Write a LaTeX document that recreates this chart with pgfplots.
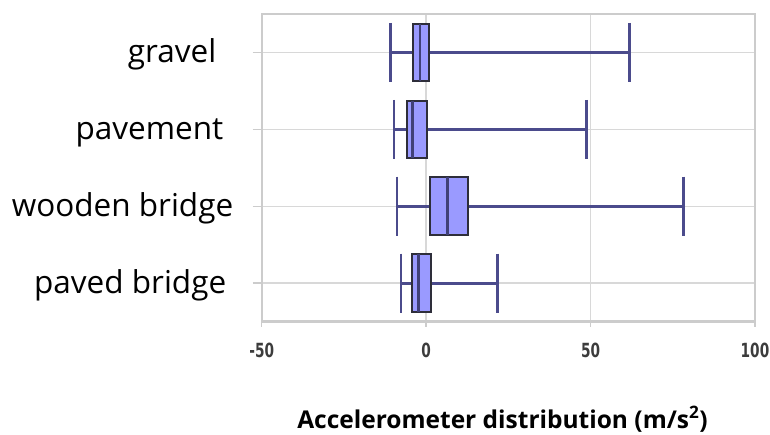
\documentclass[border=0pt]{standalone}
\usepackage{pgfplots}
\pgfplotsset{compat=1.18}
\usepgfplotslibrary{statistics}
\usepackage{fontspec}
\setmainfont{Open Sans}
\newfontfamily\tickfont[FakeStretch=0.78]{DejaVu Sans Condensed}

\definecolor{boxfill}{HTML}{9A9AFF}
\definecolor{whisk}{HTML}{4B4B8C}
\definecolor{boxedge}{HTML}{2E2E3A}
\definecolor{gridc}{HTML}{D8D8D8}
\definecolor{framec}{HTML}{CCCCCC}
\definecolor{tickc}{HTML}{3C3C3C}

\pgfplotsset{
  boxplot/every box/.style={draw=boxedge, fill=boxfill, line width=2pt},
  boxplot/every whisker/.style={draw=whisk, line width=2.6pt},
  boxplot/every median/.style={draw=whisk!85!black, line width=2.4pt},
}

\begin{document}
\begin{tikzpicture}[x=1pt,y=1pt]
\useasboundingbox (0,0) rectangle (770,434);
\begin{axis}[
  at={(261.7pt,112.3pt)}, anchor=south west,
  width=493.3pt, height=307.7pt, scale only axis,
  xmin=-50, xmax=100, ymin=0.5, ymax=4.5, y dir=reverse,
  xtick={-50,0,50,100}, ytick={1,2,3,4},
  yticklabels={gravel\hspace{17pt}\null, pavement\hspace{10pt}\null,
    wooden bridge, paved bridge\hspace{7pt}\null},
  xtick pos=bottom, ytick pos=left,
  tick align=outside,
  xtick style={draw=framec, line width=1.5pt, /pgfplots/major tick length=5pt},
  ytick style={draw=framec, line width=1.5pt, /pgfplots/major tick length=9pt},
  grid=major, major grid style={draw=gridc, line width=1.6pt},
  axis line style={draw=framec, line width=1.6pt},
  /pgf/number format/assume math mode=true,
  xticklabel style={font=\tickfont\bfseries\fontsize{19.5}{22}\selectfont, text=tickc,
    anchor=base, inner sep=0pt, yshift=-32pt},
  yticklabel style={font=\fontsize{31.5}{34}\selectfont, text=black,
    anchor=base east, inner sep=0pt, yshift=-10pt, xshift=-24pt},
  clip=false,
]
% bottom axis line is drawn heavier than the frame
\draw[draw=framec, line width=3pt] (rel axis cs:0,0) -- (rel axis cs:1,0);

% gravel
\addplot[boxplot prepared={lower whisker=-10.8, lower quartile=-3.9, median=-1.8,
  upper quartile=1.0, upper whisker=61.8, draw position=1,
  box extend=0.75, whisker extend=0.77}] coordinates {};
% pavement
\addplot[boxplot prepared={lower whisker=-9.8, lower quartile=-5.9, median=-4.1,
  upper quartile=0.3, upper whisker=48.8, draw position=2,
  box extend=0.75, whisker extend=0.77}] coordinates {};
% wooden bridge
\addplot[boxplot prepared={lower whisker=-8.8, lower quartile=1.3, median=6.5,
  upper quartile=12.8, upper whisker=78.3, draw position=3,
  box extend=0.75, whisker extend=0.77}] coordinates {};
% paved bridge
\addplot[boxplot prepared={lower whisker=-7.6, lower quartile=-4.4, median=-2.3,
  upper quartile=1.5, upper whisker=21.7, draw position=4,
  box extend=0.75, whisker extend=0.77}] coordinates {};
\end{axis}
\node[font=\bfseries\fontsize{24.5}{28}\selectfont, anchor=base]
  at (502.5,6) {Accelerometer distribution (m/s\textsuperscript{2})};
\end{tikzpicture}
\end{document}
